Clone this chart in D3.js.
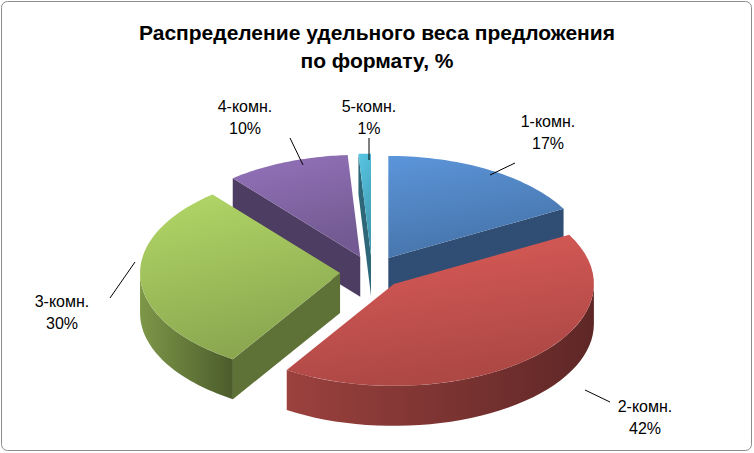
<!DOCTYPE html><html><head><meta charset="utf-8">
<script src="https://cdn.jsdelivr.net/npm/d3@7"></script>
<style>body{margin:0;background:#fff}</style></head><body>
<svg id="c" width="754" height="453"></svg>
<script>
const categories=["1-комн.","2-комн.","3-комн.","4-комн.","5-комн."];
const values=[17,42,30,10,1];
const labels=["17%","42%","30%","10%","1%"];
const colors=["#4f81bd","#c0504d","#9bbb59","#8064a2","#4bacc6"];
const svg=d3.select("#c");
svg.append("rect").attr("x",1.5).attr("y",1.5).attr("width",750).attr("height",449).attr("rx",6).attr("fill","#fff").attr("stroke","#8c8c8c");
const t=svg.append("text").attr("text-anchor","middle").attr("font-family","Liberation Sans,Arial").attr("font-weight","bold").attr("font-size",21);
t.append("tspan").attr("x",377).attr("y",40).text("Распределение удельного веса предложения");
t.append("tspan").attr("x",377).attr("y",68).text("по формату, %");
const cx=372,cy=272,rx=200,ry=102,depth=40,ex=32;
const arcs=d3.pie().sort(null)(values);
const defs=svg.append("defs");
colors.forEach((c,i)=>{
 const g=defs.append("linearGradient").attr("id","t"+i).attr("x1",0).attr("y1",0).attr("x2",0.3).attr("y2",1);
 g.append("stop").attr("offset",0).attr("stop-color",d3.color(c).brighter(0.4));
 g.append("stop").attr("offset",1).attr("stop-color",d3.color(c).darker(0.3));
 const w=defs.append("linearGradient").attr("id","w"+i).attr("x1",0).attr("y1",0).attr("x2",1).attr("y2",0);
 w.append("stop").attr("offset",0).attr("stop-color",d3.color(c).darker(0.6));
 w.append("stop").attr("offset",1).attr("stop-color",d3.color(c).darker(2));
});
const P=(a,ox,oy,dz=0)=>[cx+ox+rx*Math.sin(a),cy+oy-ry*Math.cos(a)+dz];
function rim(a0,a1,ox,oy,dz){const n=40,p=[];for(let k=0;k<=n;k++)p.push(P(a0+(a1-a0)*k/n,ox,oy,dz));return p;}
const line=d3.line();
const items=arcs.map((d,i)=>{const m=(d.startAngle+d.endAngle)/2;return {d,i,m,ox:ex*Math.sin(m),oy:-ex*Math.cos(m)*ry/rx};});
items.slice().sort((a,b)=>(-Math.cos(a.m))-(-Math.cos(b.m))).forEach(s=>{
 const {d,i,ox,oy}=s,a0=d.startAngle,a1=d.endAngle,C=[cx+ox,cy+oy];
 const g=svg.append("g");
 const face=(a)=>{const p=P(a,ox,oy);g.append("path").attr("d",line([C,p,[p[0],p[1]+depth],[C[0],C[1]+depth]])+"Z").attr("fill",d3.color(colors[i]).darker(1.4));};
 if(Math.sin(a0)<-1e-6)face(a0);
 if(Math.sin(a1)>1e-6)face(a1);
 const w0=Math.max(a0,Math.PI/2),w1=Math.min(a1,3*Math.PI/2);
 if(w1>w0){const top=rim(w0,w1,ox,oy,0),bot=rim(w1,w0,ox,oy,depth);
  g.append("path").attr("d",line(top.concat(bot))+"Z").attr("fill","url(#w"+i+")");}
 g.append("path").attr("d",line([C].concat(rim(a0,a1,ox,oy,0)))+"Z").attr("fill","url(#t"+i+")");
});
const lab=[[548,127,515,163,490,175],[645,412,610,402,585,390],[62,307,110,298,135,262],[245,112,290,138,303,165],[369,112,369,138,369,160]];
const lt=svg.append("g").attr("font-family","Liberation Sans,Arial").attr("font-size",16).attr("text-anchor","middle").attr("fill","#000");
lab.forEach((l,i)=>{
 svg.append("polyline").attr("points",[[l[2],l[3]],[l[4],l[5]]].join(" ")).attr("fill","none").attr("stroke","#000");
 lt.append("text").attr("x",l[0]).attr("y",l[1]).text(categories[i]);
 lt.append("text").attr("x",l[0]).attr("y",l[1]+22).text(labels[i]);
});
</script></body></html>
